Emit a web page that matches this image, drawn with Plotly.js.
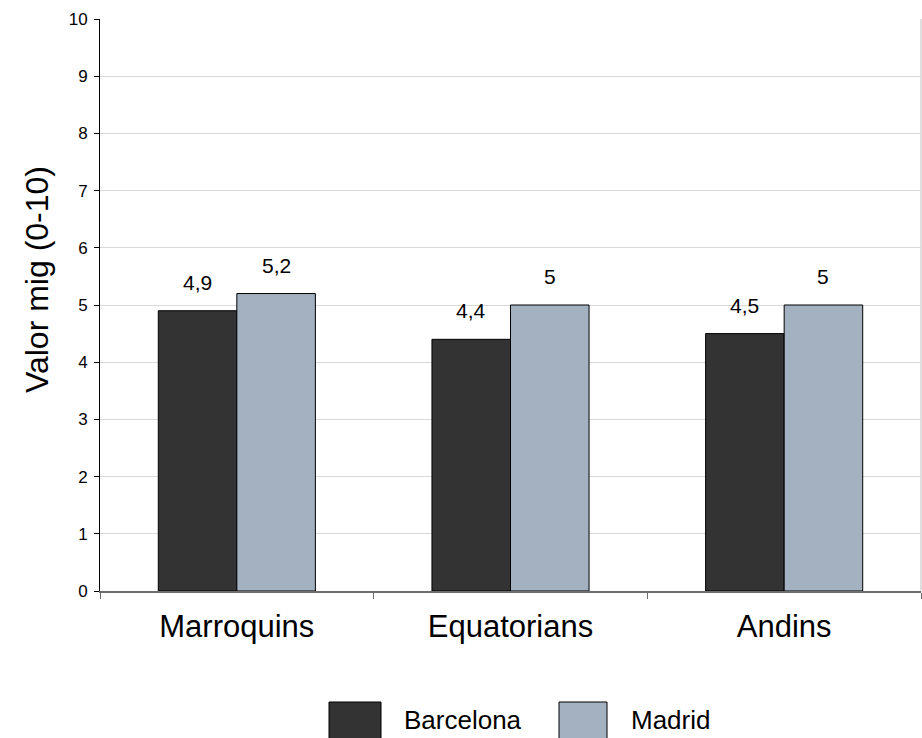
<!DOCTYPE html>
<html>
<head>
<meta charset="utf-8">
<script src="https://cdn.plot.ly/plotly-3.0.1.min.js"></script>
<style>html,body{margin:0;padding:0;background:#fff;}#chart{width:922px;height:738px;}</style>
</head>
<body>
<div id="chart"></div>
<script>
const categories = ["Marroquins", "Equatorians", "Andins"];
const seriesNames = ["Barcelona", "Madrid"];
const barcelona = [4.9, 4.4, 4.5];
const madrid = [5.2, 5.0, 5.0];
const yTickVals = [0, 1, 2, 3, 4, 5, 6, 7, 8, 9, 10];
const yTitle = "Valor mig (0-10)";

const colors = ["#333333", "#a3b1c0"];
const FONT = "Liberation Sans, Arial, sans-serif";
const W = 922, H = 738;
const margin = {l: 100, r: 1, t: 19, b: 147};
const bargap = 0.426;
const plotW = W - margin.l - margin.r;
const plotH = H - margin.t - margin.b;
const barW = plotW / categories.length * (1 - bargap) / 2;

const fmt = v => String(v).replace('.', ',');
const allSeries = [barcelona, madrid];

const traces = allSeries.map((vals, i) => ({
  type: 'bar',
  name: seriesNames[i],
  x: categories,
  y: vals,
  marker: {color: colors[i], line: {color: '#000', width: 1}},
  hoverinfo: 'x+y',
  showlegend: false
}));

const annotations = [];
allSeries.forEach((vals, i) => {
  vals.forEach((v, j) => {
    annotations.push({
      x: categories[j], y: v, xref: 'x', yref: 'y',
      text: fmt(v), showarrow: false,
      xshift: (i === 0 ? -1 : 1) * barW / 2,
      yanchor: 'bottom', yshift: 15,
      font: {family: FONT, size: 21, color: '#000'}
    });
  });
});

const pxToPaperX = px => (px - margin.l) / plotW;
const pxToPaperY = py => (H - margin.b - py) / plotH;

// y-axis title (placed like the original, slightly above centre)
annotations.push({
  xref: 'paper', yref: 'paper', x: pxToPaperX(37), y: pxToPaperY(280),
  xanchor: 'center', yanchor: 'middle', textangle: -90, showarrow: false,
  text: yTitle, font: {family: FONT, size: 32, color: '#000'}
});

// custom legend (large boxes like the original)
const shapes = [
  {type: 'line', xref: 'paper', yref: 'paper', x0: 1, x1: 1, y0: 0, y1: 1,
   line: {color: '#d4d4d4', width: 1.5}}
];
const legendBoxPx = [[329, 381], [559, 607]];
const legendTextPx = [402, 629];
seriesNames.forEach((name, i) => {
  shapes.push({
    type: 'rect', xref: 'paper', yref: 'paper',
    x0: pxToPaperX(legendBoxPx[i][0]), x1: pxToPaperX(legendBoxPx[i][1]),
    y0: pxToPaperY(702), y1: pxToPaperY(745),
    fillcolor: colors[i], line: {color: '#000', width: 1}
  });
  annotations.push({
    xref: 'paper', yref: 'paper', x: pxToPaperX(legendTextPx[i]), y: pxToPaperY(720),
    xanchor: 'left', yanchor: 'middle', showarrow: false, text: name,
    font: {family: FONT, size: 26, color: '#000'}
  });
});

const layout = {
  width: W, height: H,
  margin: margin,
  paper_bgcolor: '#fff', plot_bgcolor: '#fff',
  barmode: 'group', bargap: bargap, bargroupgap: 0,
  font: {family: FONT, color: '#000'},
  showlegend: false,
  xaxis: {
    type: 'category',
    showline: true, linecolor: '#6e6e6e', linewidth: 1.5,
    ticks: 'outside', tickson: 'boundaries', ticklen: 6, tickcolor: '#6e6e6e', tickwidth: 1,
    tickfont: {family: FONT, size: 31, color: '#000'},
    ticklabelstandoff: 7,
    showgrid: false, zeroline: false, fixedrange: true
  },
  yaxis: {
    range: [0, 10],
    tickvals: yTickVals,
    ticktext: yTickVals.map(String),
    showline: true, linecolor: '#000', linewidth: 1,
    ticks: 'outside', ticklen: 5, tickcolor: '#000',
    tickfont: {family: FONT, size: 17, color: '#000'},
    ticklabelstandoff: 3,
    showgrid: true, gridcolor: '#d9d9d9', gridwidth: 1,
    zeroline: false,
    automargin: false, fixedrange: true
  },
  annotations: annotations,
  shapes: shapes
};

Plotly.newPlot('chart', traces, layout, {displayModeBar: false, staticPlot: true});
</script>
</body>
</html>
